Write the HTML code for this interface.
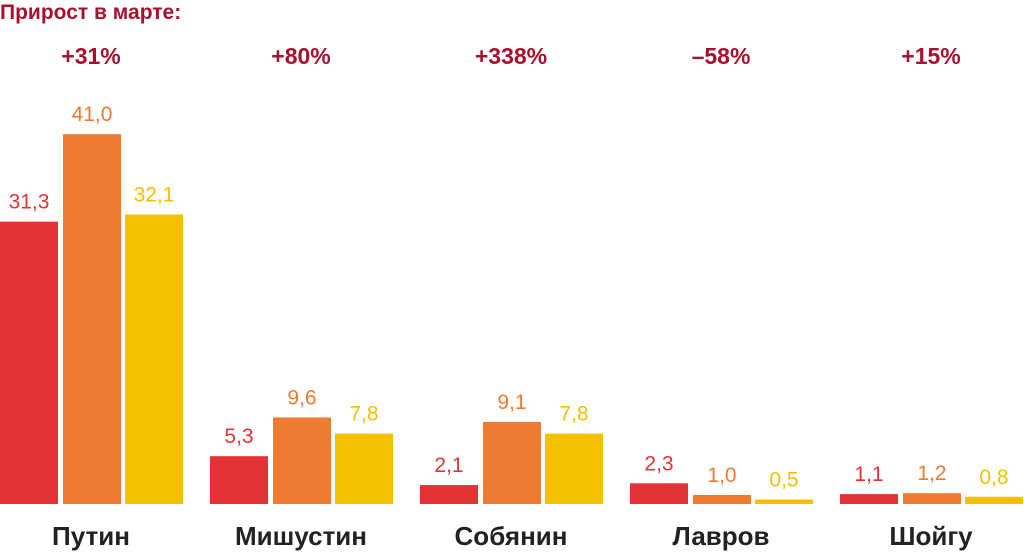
<!DOCTYPE html>
<html><head><meta charset="utf-8"><style>
body{margin:0;background:#fff;width:1024px;height:553px;overflow:hidden;font-family:"Liberation Sans",sans-serif}
</style></head><body>
<svg width="1024" height="553">
<text x="0" y="19" font-size="21" font-weight="bold" fill="#a8102e">Прирост в марте:</text>
<g id="g"></g>
</svg>
<script>
const categories=["Путин","Мишустин","Собянин","Лавров","Шойгу"];
const growth=["+31%","+80%","+338%","–58%","+15%"];
const series1=[31.3,5.3,2.1,2.3,1.1];
const series2=[41.0,9.6,9.1,1.0,1.2];
const series3=[32.1,7.8,7.8,0.5,0.8];
const colors=["#e53335","#ef7b30","#f5c000"];
const base=504,scale=9.02,groupW=210,barW=58,offs=[0,63,125];
const y=v=>base-v*scale;
const ns="http://www.w3.org/2000/svg",g=document.getElementById('g');
function mk(t,a,txt){const e=document.createElementNS(ns,t);for(const k in a)e.setAttribute(k,a[k]);if(txt!=null)e.textContent=txt;g.appendChild(e);return e;}
const all=[series1,series2,series3];
categories.forEach((c,i)=>{
  const gx=i*groupW;
  all.forEach((s,j)=>{
    const v=s[i],x=gx+offs[j],top=y(v);
    const r=mk('rect',{x:x,y:top,width:barW,height:Math.max(base-top,1.5),fill:colors[j]});
    
    
    const t=mk('text',{x:x+barW/2,y:top-13,'text-anchor':'middle','font-size':21,fill:colors[j]},v.toFixed(1).replace('.',','));
    
    
  });
  const cx=gx+91;
  const p=mk('text',{x:cx,y:64,'text-anchor':'middle','font-size':23,'font-weight':'bold',fill:'#a8102e'},growth[i]);
  
  
  const n=mk('text',{x:cx,y:545,'text-anchor':'middle','font-size':26,'font-weight':'bold',fill:'#222'},c);
  
  
});
</script>
</body></html>
